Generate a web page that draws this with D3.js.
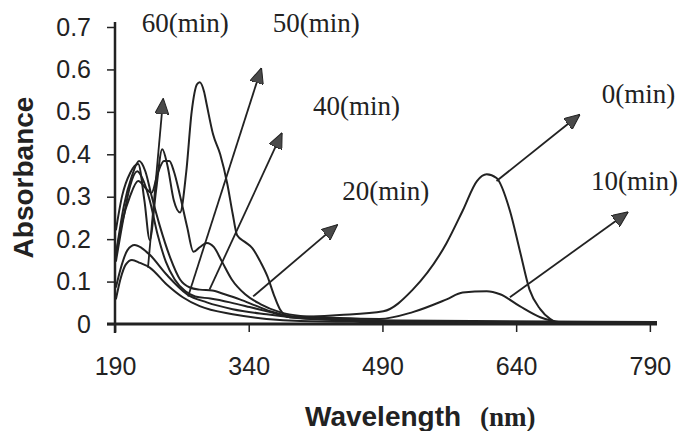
<!DOCTYPE html>
<html>
<head>
<meta charset="utf-8">
<script src="https://cdn.jsdelivr.net/npm/d3@7"></script>
<style>
  html, body { margin: 0; padding: 0; background: #fff; }
  svg { display: block; }
</style>
</head>
<body>
<div id="chart"></div>
<script>
const width = 681;
const height = 431;

// wavelength ticks and absorbance ticks
const xTicks = [190, 340, 490, 640, 790];
const yTicks = [0, 0.1, 0.2, 0.3, 0.4, 0.5, 0.6, 0.7];

// spectra: [wavelength (nm), absorbance]
const min0 = [[191,0.221],[198,0.302],[207,0.356],[216,0.377],[223,0.291],[229,0.198],[236,0.314],[243,0.412],
  [249,0.372],[256,0.291],[263,0.263],[270,0.360],[276,0.500],[282,0.565],[285,0.570],[290,0.547],[293,0.516],
  [300,0.447],[308,0.400],[316,0.330],[322,0.260],[327,0.209],[336,0.193],[344,0.179],[353,0.147],[361,0.112],
  [368,0.070],[375,0.035],[386,0.016],[442,0.021],[491,0.030],[524,0.081],[562,0.191],[580,0.267],[596,0.337],
  [607,0.353],[618,0.344],[633,0.267],[644,0.174],[655,0.081],[667,0.035],[678,0.012],[689,0.002],[798,0.002]];
const min10 = [[191,0.163],[198,0.240],[207,0.302],[216,0.337],[225,0.319],[231,0.309],[238,0.356],[245,0.384],
  [251,0.384],[256,0.360],[263,0.302],[271,0.228],[278,0.170],[285,0.181],[293,0.191],[301,0.181],[310,0.147],
  [321,0.105],[336,0.070],[353,0.047],[375,0.028],[398,0.019],[442,0.014],[487,0.012],[524,0.028],[562,0.058],
  [580,0.074],[607,0.077],[622,0.070],[644,0.042],[667,0.016],[681,0.007],[700,0.002],[798,0.002]];
const min20 = [[191,0.163],[200,0.279],[209,0.349],[217,0.384],[224,0.360],[231,0.302],[240,0.233],[252,0.156],
  [263,0.105],[274,0.086],[285,0.081],[299,0.079],[313,0.070],[330,0.058],[347,0.044],[364,0.030],[386,0.019],
  [431,0.012],[510,0.007],[622,0.005],[798,0.005]];
const min40 = [[191,0.147],[199,0.244],[207,0.326],[215,0.360],[221,0.342],[229,0.291],[238,0.209],[247,0.147],
  [257,0.105],[269,0.077],[280,0.065],[297,0.060],[319,0.051],[341,0.040],[364,0.028],[386,0.016],[442,0.009],
  [510,0.005],[798,0.005]];
const min50 = [[191,0.086],[196,0.128],[204,0.174],[212,0.186],[220,0.179],[229,0.163],[248,0.116],[271,0.070],
  [293,0.051],[322,0.035],[360,0.023],[398,0.014],[465,0.009],[798,0.005]];
const min60 = [[191,0.058],[196,0.105],[202,0.140],[209,0.151],[218,0.144],[229,0.133],[248,0.093],[266,0.063],
  [285,0.042],[322,0.023],[360,0.012],[398,0.007],[465,0.005],[798,0.002]];
const spectra = [min0, min10, min20, min40, min50, min60];

// annotation labels and the arrows pointing from curves to them
const labelText = ['60(min)', '50(min)', '40(min)', '20(min)', '0(min)', '10(min)'];
const labelAt = [[220, 0.689], [367, 0.689], [412, 0.493], [445, 0.293], [736, 0.522], [724, 0.316]];
const arrowFrom = [[227, 0.133], [272, 0.065], [296, 0.081], [345, 0.065], [618, 0.337], [633, 0.063]];
const arrowTo = [[244, 0.530], [354, 0.602], [377, 0.449], [439, 0.233], [711, 0.493], [765, 0.263]];

const ink = '#222';

const svg = d3.select('#chart')
  .append('svg')
  .attr('width', width)
  .attr('height', height);

const x = d3.scaleLinear().domain([190, 798]).range([115, 657]);
const y = d3.scaleLinear().domain([0, 0.7]).range([324, 27]);

// arrow head
svg.append('defs')
  .append('marker')
  .attr('id', 'head')
  .attr('viewBox', '0 0 16 14')
  .attr('refX', 15)
  .attr('refY', 7)
  .attr('markerWidth', 16)
  .attr('markerHeight', 14)
  .attr('markerUnits', 'userSpaceOnUse')
  .attr('orient', 'auto')
  .append('path')
  .attr('d', 'M0,0 L16,7 L0,14 Z')
  .attr('fill', '#4a4a4a')
  .attr('stroke', ink)
  .attr('stroke-width', 1);

// y axis
const yAxis = svg.append('g')
  .attr('transform', `translate(${x(190)},0)`)
  .call(d3.axisLeft(y).tickValues(yTicks).tickSize(8).tickPadding(16)
    .tickFormat(d => d === 0 ? '0' : d3.format('.1f')(d)));
yAxis.select('.domain').remove();
yAxis.selectAll('line').attr('stroke', ink).attr('stroke-width', 1.5);
yAxis.selectAll('text')
  .attr('fill', ink)
  .style('font-family', '"Liberation Sans", Arial, sans-serif')
  .style('font-size', '25px');

// x axis
const xAxis = svg.append('g')
  .attr('transform', `translate(0,${y(0)})`)
  .call(d3.axisBottom(x).tickValues(xTicks).tickSize(8).tickPadding(25));
xAxis.select('.domain').remove();
xAxis.selectAll('line').attr('stroke', ink).attr('stroke-width', 1.5);
xAxis.selectAll('text')
  .attr('fill', ink)
  .style('font-family', '"Liberation Sans", Arial, sans-serif')
  .style('font-size', '25px');

// axis lines
svg.append('line')
  .attr('x1', x(190)).attr('x2', x(190))
  .attr('y1', y(0) + 9).attr('y2', y(0.7) - 5)
  .attr('stroke', ink).attr('stroke-width', 2.5);
svg.append('line')
  .attr('x1', x(190) - 8).attr('x2', x(798))
  .attr('y1', y(0)).attr('y2', y(0))
  .attr('stroke', ink).attr('stroke-width', 3);

// spectra
const line = d3.line()
  .x(d => x(d[0]))
  .y(d => y(d[1]))
  .curve(d3.curveMonotoneX);

svg.append('g')
  .selectAll('path')
  .data(spectra)
  .join('path')
  .attr('d', line)
  .attr('fill', 'none')
  .attr('stroke', ink)
  .attr('stroke-width', 2);

// arrows
svg.append('g')
  .selectAll('line')
  .data(arrowFrom)
  .join('line')
  .attr('x1', d => x(d[0]))
  .attr('y1', d => y(d[1]))
  .attr('x2', (d, i) => x(arrowTo[i][0]))
  .attr('y2', (d, i) => y(arrowTo[i][1]))
  .attr('stroke', ink)
  .attr('stroke-width', 1.8)
  .attr('marker-end', 'url(#head)');

// labels
svg.append('g')
  .selectAll('text')
  .data(labelText)
  .join('text')
  .attr('x', (d, i) => x(labelAt[i][0]))
  .attr('y', (d, i) => y(labelAt[i][1]))
  .attr('fill', ink)
  .style('font-family', '"Liberation Serif", "Times New Roman", serif')
  .style('font-size', '27px')
  .text(d => d);

// axis titles
svg.append('text')
  .attr('transform', `translate(33,${(95 + 260) / 2}) rotate(-90)`)
  .attr('text-anchor', 'middle')
  .attr('fill', ink)
  .style('font-family', '"Liberation Sans", Arial, sans-serif')
  .style('font-weight', 'bold')
  .style('font-size', '28px')
  .text('Absorbance');

const xTitle = svg.append('text')
  .attr('x', 305)
  .attr('y', 426)
  .attr('fill', ink)
  .style('font-weight', 'bold');
xTitle.append('tspan')
  .style('font-family', '"Liberation Sans", Arial, sans-serif')
  .style('font-size', '28px')
  .text('Wavelength');
xTitle.append('tspan')
  .attr('dx', 19)
  .style('font-family', '"Liberation Serif", "Times New Roman", serif')
  .style('font-size', '27px')
  .text('(nm)');
</script>
</body>
</html>
